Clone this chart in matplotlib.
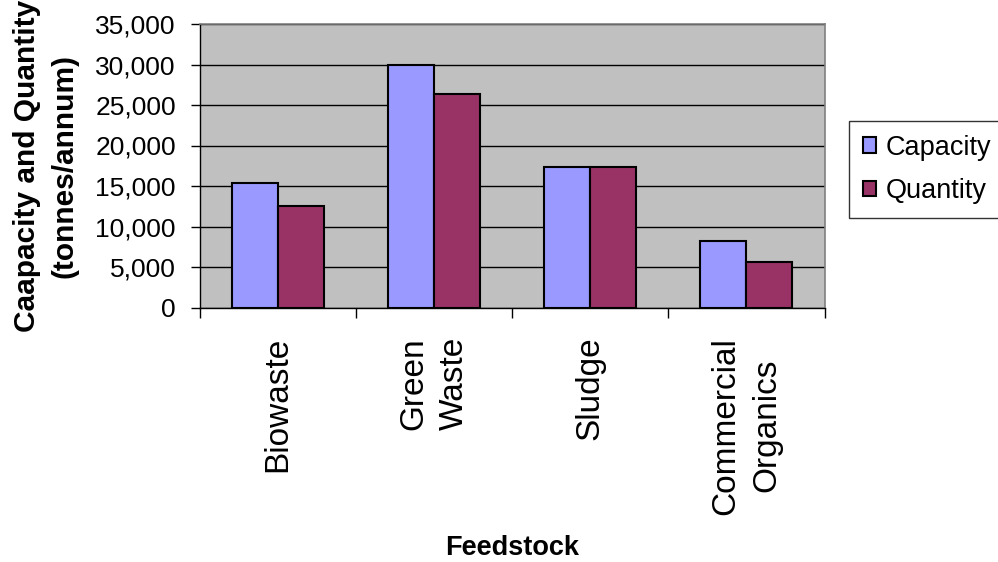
import matplotlib
matplotlib.use("Agg")
import matplotlib.pyplot as plt
import numpy as np
from matplotlib.ticker import FuncFormatter, FixedLocator

plt.rcParams['font.family'] = ['Liberation Sans', 'DejaVu Sans']

categories = ["Biowaste", "Green\nWaste", "Sludge", "Commercial\nOrganics"]
series_names = ["Capacity", "Quantity"]
capacity = [15400, 30000, 17400, 8200]
quantity = [12500, 26300, 17400, 5650]
y_ticks = [0, 5000, 10000, 15000, 20000, 25000, 30000, 35000]

fig = plt.figure(figsize=(9.98, 5.62), dpi=100)
ax = fig.add_axes([199.5 / 998, 1 - 307.5 / 562, 625 / 998, (307.5 - 24) / 562])
ax.set_facecolor("#C0C0C0")

x = np.arange(len(categories))
w = 0.295
ax.bar(x - w / 2, capacity, w, color="#9999FF", edgecolor="black", linewidth=1.5,
       label=series_names[0], zorder=3)
ax.bar(x + w / 2, quantity, w, color="#993366", edgecolor="black", linewidth=1.5,
       label=series_names[1], zorder=3)

ax.set_xlim(-0.5, len(categories) - 0.5)
ax.set_ylim(0, 35000)
ax.set_yticks(y_ticks)
ax.yaxis.set_major_formatter(FuncFormatter(lambda v, p: f"{int(v):,}"))
ax.grid(axis="y", color="black", linewidth=1.0, zorder=1)
ax.set_axisbelow(True)

# category ticks sit between groups, names centred under each group
ax.xaxis.set_major_locator(FixedLocator(np.arange(-0.5, len(categories), 1.0)))
ax.xaxis.set_major_formatter(FuncFormatter(lambda v, p: ""))
ax.xaxis.set_minor_locator(FixedLocator(x))
ax.set_xticklabels(categories, minor=True, rotation=90, fontsize=24,
                   multialignment="center", linespacing=1.4)
ax.tick_params(axis="x", which="major", length=7.5, width=1, color="black")
ax.tick_params(axis="x", which="minor", length=0, pad=21)
ax.tick_params(axis="y", which="major", length=6.5, width=1, color="black",
               labelsize=19, pad=10.5)

for side in ("top", "right"):
    ax.spines[side].set_color("#808080")
    ax.spines[side].set_linewidth(1.2)
for side in ("left", "bottom"):
    ax.spines[side].set_color("black")
    ax.spines[side].set_linewidth(1.0)

fig.text(27 / 998, 1 - 166 / 562, "Caapacity and Quantity", rotation=90,
         ha="center", va="center", fontsize=21.5, fontweight="bold")
fig.text(65 / 998, 1 - 166 / 562, "(tonnes/annum)", rotation=90,
         ha="center", va="center", fontsize=21.5, fontweight="bold")
fig.text(512 / 998, 1 - 548 / 562, "Feedstock", ha="center", va="center",
         fontsize=19.5, fontweight="bold")

leg = fig.legend(loc="upper left", bbox_to_anchor=(849 / 998, 1 - 121 / 562),
                 fontsize=19.5, frameon=True, fancybox=False, handlelength=0.5,
                 handleheight=0.5, handletextpad=0.35, labelspacing=0.65,
                 borderpad=0.5, borderaxespad=0)
leg.get_frame().set_edgecolor("black")
leg.get_frame().set_linewidth(1.0)

fig.savefig("out.png", dpi=100)
